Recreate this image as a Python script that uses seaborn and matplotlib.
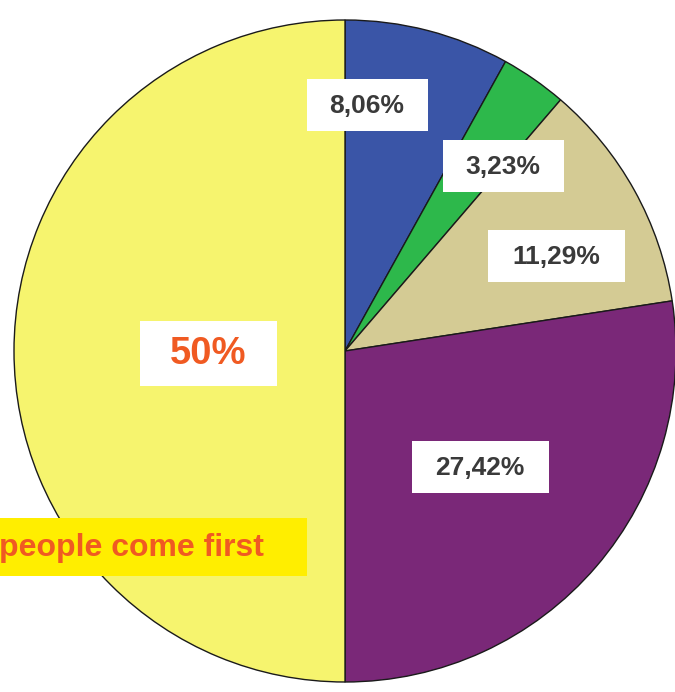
import matplotlib.pyplot as plt
import matplotlib.patches as mpatches
import seaborn as sns

# slices clockwise from 12 o'clock
shares = [8.06, 3.23, 11.29, 27.42, 50.0]
share_labels = ['8,06%', '3,23%', '11,29%', '27,42%', '50%']
slice_colors = ['#3A55A7', '#2DB84B', '#D4CB94', '#7A2878', '#F6F46E']

# label box centers and sizes (pixels, measured from top-left)
box_centers = [(367, 105), (503, 166), (556, 256), (480, 467), (208, 353)]
box_sizes = [(121, 52), (121, 52), (137, 52), (137, 52), (137, 65)]

sns.set_theme(style='white')
plt.rcParams['font.family'] = ['Liberation Sans', 'DejaVu Sans']

W, H = 675, 692
fig = plt.figure(figsize=(W / 100, H / 100), dpi=100)
ax = fig.add_axes([0, 0, 1, 1])

ax.pie(shares, colors=slice_colors, startangle=90, counterclock=False,
       center=(345, H - 351), radius=331, frame=True,
       wedgeprops=dict(edgecolor='#1a1a1a', linewidth=1.0))
ax.set_xlim(0, W)
ax.set_ylim(0, H)
ax.set_aspect('equal')
ax.axis('off')

for lab, (cx, cy), (bw, bh) in zip(share_labels, box_centers, box_sizes):
    y = H - cy
    ax.add_patch(mpatches.Rectangle((cx - bw / 2, y - bh / 2), bw, bh,
                                    facecolor='white', edgecolor='none', zorder=3))
    if lab == '50%':
        ax.text(cx, y - 1, lab, ha='center', va='center', fontsize=27.5,
                fontweight='bold', color='#F05A22', zorder=4)
    else:
        ax.text(cx, y - 1, lab, ha='center', va='center', fontsize=19,
                fontweight='bold', color='#3a3a3a', zorder=4)

ax.add_patch(mpatches.Rectangle((0, H - 576), 307, 58, facecolor='#FFEE00',
                                edgecolor='none', zorder=3))
ax.text(-1, H - 548, 'people come first', ha='left', va='center', fontsize=23,
        fontweight='bold', color='#F05A22', zorder=4)

fig.savefig('out.png', dpi=100)
plt.close(fig)
